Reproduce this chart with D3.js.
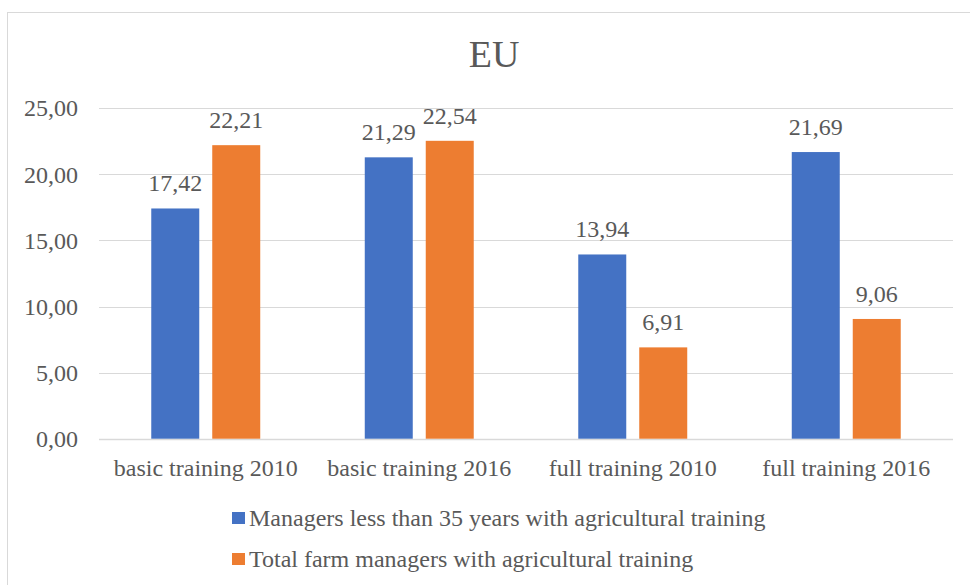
<!DOCTYPE html>
<html>
<head>
<meta charset="utf-8">
<script src="https://cdn.jsdelivr.net/npm/d3@7"></script>
<style>
html,body{margin:0;padding:0;background:#fff;}
svg{display:block;}
text{font-family:"Liberation Serif","Times New Roman",serif;fill:#595959;}
</style>
</head>
<body>
<svg id="chart" width="970" height="585"></svg>
<script>
const categories = ["basic training 2010", "basic training 2016", "full training 2010", "full training 2016"];
const seriesNames = ["Managers less than 35 years with agricultural training", "Total farm managers with agricultural training"];
const managersUnder35 = [17.42, 21.29, 13.94, 21.69];
const totalManagers = [22.21, 22.54, 6.91, 9.06];
const yTicks = [0, 5, 10, 15, 20, 25];
const colors = ["#4472c4", "#ed7d31"];
const chartTitle = "EU";

(function () {
const seriesValues = [managersUnder35, totalManagers];
const data = categories.map((c, i) => ({cat: c, vals: seriesValues.map((s, j) => ({key: seriesNames[j], v: s[i], j}))}));

const svg = d3.select("#chart");
const pLeft = 99, pRight = 953, pTop = 108.3, pBottom = 438.7;

// outer border
svg.append("rect").attr("x", 7.5).attr("y", 12.5).attr("width", 980).attr("height", 600)
  .attr("fill", "none").attr("stroke", "#d9d9d9").attr("stroke-width", 1);

svg.append("text").attr("x", 494).attr("y", 67).attr("text-anchor", "middle")
  .style("font-size", "38px").text(chartTitle);

const y = d3.scaleLinear().domain([0, 25]).range([pBottom, pTop]);
const x0 = d3.scaleBand().domain(categories).range([pLeft, pRight]).padding(0);
const x1 = d3.scaleBand().domain(seriesNames).range([0, x0.bandwidth()]).paddingInner(0.213).paddingOuter(0.857);

// gridlines
svg.append("g").selectAll("line").data(yTicks).join("line")
  .attr("x1", pLeft).attr("x2", pRight)
  .attr("y1", d => Math.round(y(d)) + 0.5).attr("y2", d => Math.round(y(d)) + 0.5)
  .attr("stroke", "#d9d9d9").attr("stroke-width", d => d === 0 ? 1.5 : 1);

// y axis labels
const yAxis = d3.axisLeft(y).tickValues(yTicks).tickSize(0).tickPadding(21)
  .tickFormat(d => d3.format(".2f")(d).replace(".", ","));
const gy = svg.append("g").attr("transform", `translate(${pLeft},0)`).call(yAxis);
gy.select(".domain").remove();
gy.selectAll("text").style("font-size", "24px").attr("fill", "#595959").style("font-family", '"Liberation Serif", serif');

// x axis labels
const xAxis = d3.axisBottom(x0).tickSize(0).tickPadding(20);
const gx = svg.append("g").attr("transform", `translate(0,${pBottom})`).call(xAxis);
gx.select(".domain").remove();
gx.selectAll("text").style("font-size", "24px").attr("fill", "#595959").style("font-family", '"Liberation Serif", serif');

// bars
const groups = svg.append("g").selectAll("g").data(data).join("g")
  .attr("transform", d => `translate(${x0(d.cat)},0)`);
groups.selectAll("rect").data(d => d.vals).join("rect")
  .attr("x", d => x1(d.key)).attr("width", x1.bandwidth())
  .attr("y", d => y(d.v)).attr("height", d => y(0) - y(d.v))
  .attr("fill", d => colors[d.j]);
groups.selectAll("text").data(d => d.vals).join("text")
  .attr("x", d => x1(d.key) + x1.bandwidth() / 2)
  .attr("y", d => y(d.v) - 17)
  .attr("text-anchor", "middle").style("font-size", "24px")
  .text(d => d3.format(".2f")(d.v).replace(".", ","));

// legend
const legend = svg.append("g").selectAll("g").data(seriesNames).join("g")
  .attr("transform", (d, i) => `translate(232,${512 + i * 41})`);
legend.append("rect").attr("width", 13).attr("height", 12).attr("fill", (d, i) => colors[i]);
legend.append("text").attr("x", 17).attr("y", 14).style("font-size", "24px").text(d => d);
})();
</script>
</body>
</html>
